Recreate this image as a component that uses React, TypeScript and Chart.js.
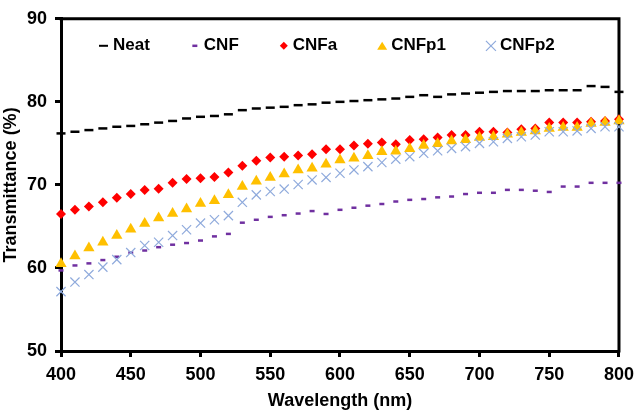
import React, { useEffect, useRef } from 'react';
import { Chart, registerables } from 'chart.js';

Chart.register(...registerables);

const wavelengths = [400, 410, 420, 430, 440, 450, 460, 470, 480, 490, 500, 510, 520, 530, 540, 550, 560, 570, 580, 590, 600, 610, 620, 630, 640, 650, 660, 670, 680, 690, 700, 710, 720, 730, 740, 750, 760, 770, 780, 790, 800];

const neat = [76.2, 76.4, 76.6, 76.8, 77.0, 77.1, 77.3, 77.5, 77.7, 78.0, 78.2, 78.3, 78.5, 79.0, 79.2, 79.3, 79.4, 79.6, 79.7, 79.9, 80.0, 80.1, 80.2, 80.3, 80.4, 80.6, 80.8, 80.6, 80.9, 81.0, 81.1, 81.2, 81.3, 81.3, 81.3, 81.4, 81.4, 81.4, 81.9, 81.8, 81.2];

const cnf = [59.7, 60.3, 60.55, 60.95, 61.35, 61.85, 62.1, 62.5, 62.8, 63.0, 63.3, 63.8, 64.1, 65.45, 65.8, 66.15, 66.35, 66.55, 66.85, 66.5, 67.0, 67.25, 67.5, 67.7, 68.0, 68.2, 68.3, 68.5, 68.6, 68.9, 69.05, 69.05, 69.4, 69.4, 69.3, 69.15, 69.8, 69.8, 70.25, 70.25, 70.25];

const cnfa = [66.5, 67.0, 67.4, 67.9, 68.45, 68.9, 69.4, 69.55, 70.25, 70.7, 70.8, 70.95, 71.5, 72.3, 72.9, 73.3, 73.4, 73.55, 73.7, 74.3, 74.3, 74.75, 74.95, 75.1, 74.9, 75.4, 75.5, 75.7, 76.0, 76.0, 76.4, 76.4, 76.3, 76.7, 76.8, 77.5, 77.5, 77.5, 77.6, 77.7, 77.9];

const cnfp1 = [60.5, 61.45, 62.4, 63.1, 63.9, 64.65, 65.35, 66.0, 66.55, 67.1, 67.75, 68.1, 68.8, 69.8, 70.45, 70.9, 71.3, 71.8, 72.0, 72.5, 73.0, 73.2, 73.5, 74.0, 74.05, 74.35, 74.75, 74.95, 75.3, 75.45, 75.7, 75.8, 76.1, 76.3, 76.5, 76.8, 76.9, 76.9, 77.4, 77.5, 77.7];

const cnfp2 = [57.15, 58.3, 59.2, 60.1, 61.0, 61.85, 62.7, 63.1, 63.9, 64.6, 65.4, 65.8, 66.3, 67.9, 68.8, 69.2, 69.5, 70.05, 70.6, 70.9, 71.4, 71.8, 72.2, 72.7, 73.1, 73.4, 73.8, 74.1, 74.4, 74.6, 75.0, 75.2, 75.6, 75.8, 76.0, 76.4, 76.4, 76.5, 76.8, 77.0, 77.0];

const seriesNames = ['Neat', 'CNF', 'CNFa', 'CNFp1', 'CNFp2'];
const xTitle = 'Wavelength (nm)';
const yTitle = 'Transmittance (%)';

const FONT = "'Liberation Sans', Arial, sans-serif";
const COLORS = ['#000000', '#7030A0', '#FF0000', '#FFC000', '#8FAADC'];

export default function App() {
  const ref = useRef<HTMLCanvasElement>(null);

  useEffect(() => {
    document.body.style.margin = '0';
    const pts = (arr: number[]) => wavelengths.map((w, i) => ({ x: w, y: arr[i] }));

    const boxPlugin = {
      id: 'boxPlugin',
      beforeDatasetsDraw(chart: any) {
        const { ctx, chartArea: a } = chart;
        ctx.save();
        ctx.strokeStyle = '#000';
        ctx.lineWidth = 3;
        ctx.beginPath();
        ctx.moveTo(a.left - 1.5, a.top);
        ctx.lineTo(a.right, a.top);
        ctx.lineTo(a.right, a.bottom + 1.5);
        ctx.stroke();
        ctx.restore();
      },
    };

    const legendPlugin = {
      id: 'insideLegend',
      afterDraw(chart: any) {
        const { ctx, chartArea: a } = chart;
        ctx.save();
        ctx.font = `bold 17px ${FONT}`;
        ctx.textBaseline = 'middle';
        ctx.textAlign = 'left';
        let x = a.left + 38;
        const y = a.top + 27;
        chart.data.datasets.forEach((ds: any, i: number) => {
          const c = COLORS[i];
          const cx = x + 5;
          ctx.strokeStyle = c;
          ctx.fillStyle = c;
          if (i === 0) {
            ctx.lineWidth = 2;
            ctx.beginPath();
            ctx.moveTo(x, y);
            ctx.lineTo(x + 9, y);
            ctx.stroke();
          } else if (i === 1) {
            ctx.lineWidth = 2.5;
            ctx.beginPath();
            ctx.moveTo(cx - 2.5, y);
            ctx.lineTo(cx + 2.5, y);
            ctx.stroke();
          } else if (i === 2) {
            ctx.beginPath();
            ctx.moveTo(cx, y - 4);
            ctx.lineTo(cx + 4, y);
            ctx.lineTo(cx, y + 4);
            ctx.lineTo(cx - 4, y);
            ctx.closePath();
            ctx.fill();
          } else if (i === 3) {
            ctx.beginPath();
            ctx.moveTo(cx, y - 4);
            ctx.lineTo(cx + 5, y + 4);
            ctx.lineTo(cx - 5, y + 4);
            ctx.closePath();
            ctx.fill();
          } else {
            ctx.lineWidth = 1.2;
            ctx.beginPath();
            ctx.moveTo(cx - 5, y - 5);
            ctx.lineTo(cx + 5, y + 5);
            ctx.moveTo(cx + 5, y - 5);
            ctx.lineTo(cx - 5, y + 5);
            ctx.stroke();
          }
          ctx.fillStyle = '#000';
          const tx = x + 14;
          ctx.fillText(ds.label, tx, y);
          x = tx + ctx.measureText(ds.label).width + 40;
        });
        ctx.restore();
      },
    };

    const axisCommon = (title: string, isX: boolean) => ({
      type: 'linear' as const,
      ticks: {
        font: { size: 18, weight: 'bold' as const, family: FONT },
        color: '#000',
        padding: isX ? 7 : 8,
      },
      grid: {
        drawOnChartArea: false,
        drawTicks: true,
        tickLength: 6,
        color: '#000',
        lineWidth: 3,
      },
      border: { display: true, color: '#000', width: 3 },
      title: {
        display: true,
        text: title,
        color: '#000',
        font: { size: 18, weight: 'bold' as const, family: FONT },
        padding: { top: 0, bottom: 0 },
      },
    });

    const chart = new Chart(ref.current as HTMLCanvasElement, {
      type: 'line',
      data: {
        datasets: [
          {
            // dashed series drawn as one short dash centred on each data point
            label: seriesNames[0],
            data: pts(neat),
            borderColor: COLORS[0],
            backgroundColor: COLORS[0],
            pointStyle: 'line',
            pointRadius: 4.5,
            pointBorderWidth: 2.5,
            showLine: false,
            order: 4,
            clip: false,
          },
          {
            label: seriesNames[1],
            data: pts(cnf),
            borderColor: COLORS[1],
            backgroundColor: COLORS[1],
            pointStyle: 'line',
            pointRadius: 2.5,
            pointBorderWidth: 2.5,
            showLine: false,
            order: 3,
            clip: false,
          },
          {
            label: seriesNames[2],
            data: pts(cnfa),
            borderColor: COLORS[2],
            backgroundColor: COLORS[2],
            pointStyle: 'rectRot',
            pointRadius: 5,
            pointBorderWidth: 0,
            showLine: false,
            order: 2,
            clip: false,
          },
          {
            label: seriesNames[3],
            data: pts(cnfp1),
            borderColor: COLORS[3],
            backgroundColor: COLORS[3],
            pointStyle: 'triangle',
            pointRadius: 6.5,
            pointBorderWidth: 0,
            showLine: false,
            order: 1,
            clip: false,
          },
          {
            label: seriesNames[4],
            data: pts(cnfp2),
            borderColor: COLORS[4],
            backgroundColor: COLORS[4],
            pointStyle: 'crossRot',
            pointRadius: 6.5,
            pointBorderWidth: 1.2,
            showLine: false,
            order: 0,
            clip: false,
          },
        ],
      },
      options: {
        responsive: false,
        animation: false,
        layout: { padding: { top: 11, right: 19, left: 0, bottom: 0 } },
        plugins: {
          legend: { display: false },
          tooltip: { enabled: false },
        },
        scales: {
          x: {
            ...axisCommon(xTitle, true),
            min: 400,
            max: 800,
            ticks: { ...axisCommon(xTitle, true).ticks, stepSize: 50 },
            afterFit: (s: any) => {
              s.height = 61;
            },
          },
          y: {
            ...axisCommon(yTitle, false),
            min: 50,
            max: 90,
            ticks: { ...axisCommon(yTitle, false).ticks, stepSize: 10 },
            afterFit: (s: any) => {
              s.width = 61;
            },
          },
        },
      },
      plugins: [boxPlugin, legendPlugin],
    });

    return () => chart.destroy();
  }, []);

  return (
    <div style={{ width: 641, height: 412 }}>
      <canvas ref={ref} width={641} height={412} style={{ display: 'block' }} />
    </div>
  );
}
